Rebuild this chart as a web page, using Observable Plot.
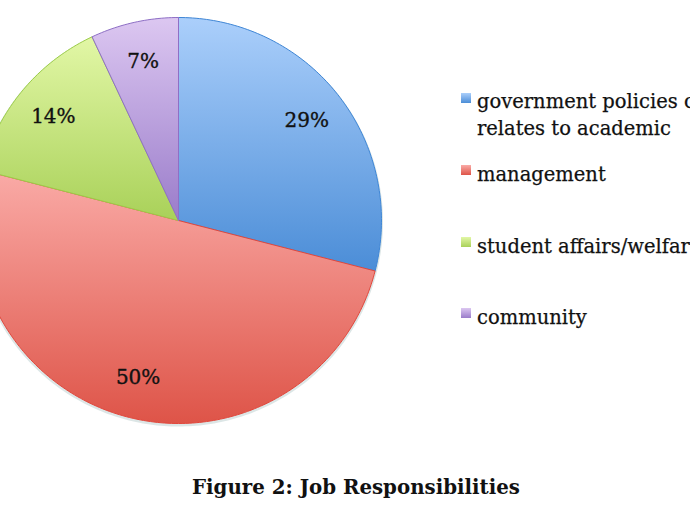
<!DOCTYPE html>
<html>
<head>
<meta charset="utf-8">
<script src="https://cdn.jsdelivr.net/npm/d3@7"></script>
<script src="https://cdn.jsdelivr.net/npm/@observablehq/plot@0.6"></script>
<style>
  html, body { margin: 0; padding: 0; background: #fff; overflow: hidden; }
  #wrap { position: relative; width: 690px; height: 518px; overflow: hidden; }
  .leg { position: absolute; left: 0; top: 0; font-family: "DejaVu Serif", serif; font-size: 19.5px; color: #111; white-space: nowrap; -webkit-text-stroke: 0.25px #111; }
  .sw { position: absolute; width: 10px; height: 10px; }
  .lt { position: absolute; line-height: 27px; }
  #title { position: absolute; left: 0; width: 712px; text-align: center; top: 475px; font-family: "DejaVu Serif", serif; font-weight: bold; font-size: 19.8px; color: #111; white-space: nowrap; }
</style>
</head>
<body>
<div id="wrap"></div>
<script>
// ---- data ----
const categories = ["government policies or relates to academic", "management", "student affairs/welfare", "community"];
const legendLines = [["government policies or", "relates to academic"], ["management"], ["student affairs/welfare"], ["community"]];
const shares = [29, 50, 14, 7];
const labels = ["29%", "50%", "14%", "7%"];
const topColors = ["#abcffb", "#faaba7", "#e2f7a6", "#dcc7f1"];
const bottomColors = ["#4b8dd7", "#de5448", "#a9d159", "#9a7cca"];
const strokeColors = ["#3f86d6", "#e0473c", "#9ccd48", "#8f6fc6"];
const titleText = "Figure 2: Job Responsibilities";

// ---- layout ----
const W = 690, H = 518, CX = 178, CY = 220, R = 203;

const total = d3.sum(shares);
let acc = 0;
const slices = shares.map((v, i) => {
  const a0 = acc / total * 2 * Math.PI;
  acc += v;
  const a1 = acc / total * 2 * Math.PI;
  return {i, v, a0, a1, mid: (a0 + a1) / 2};
});

function slicePoints(s) {
  const pts = [{x: 0, y: 0}];
  const n = Math.max(4, Math.ceil((s.a1 - s.a0) / (Math.PI / 180)));
  for (let k = 0; k <= n; k++) {
    const t = s.a0 + (s.a1 - s.a0) * k / n;
    pts.push({x: Math.sin(t), y: Math.cos(t)});
  }
  pts.push({x: 0, y: 0});
  return pts;
}
const circlePts = d3.range(0, 361).map(d => ({x: Math.sin(d * Math.PI / 180), y: Math.cos(d * Math.PI / 180)}));

const labelData = slices.map(s => ({label: labels[s.i], x: 0.8 * Math.sin(s.mid), y: 0.8 * Math.cos(s.mid)}));

const marks = [
  Plot.line(circlePts, {x: "x", y: "y", stroke: "#d3e0e0", strokeWidth: 3, dy: 1.5, strokeOpacity: 0.8})
];
slices.forEach(s => {
  marks.push(Plot.line(slicePoints(s), {x: "x", y: "y", fill: `url(#grad${s.i})`, stroke: strokeColors[s.i], strokeWidth: 1, strokeLinejoin: "round"}));
});
marks.push(Plot.text(labelData, {x: "x", y: "y", text: "label", fontSize: 20, fontFamily: "DejaVu Serif", fill: "#111", stroke: "#111", strokeWidth: 0.35}));

const svg = Plot.plot({
  width: W, height: H,
  marginLeft: 0, marginRight: 0, marginTop: 0, marginBottom: 0,
  x: {domain: [-CX / R, (W - CX) / R], axis: null},
  y: {domain: [-(H - CY) / R, CY / R], axis: null},
  marks
});

// gradients
const ns = "http://www.w3.org/2000/svg";
const defs = document.createElementNS(ns, "defs");
slices.forEach(s => {
  const g = document.createElementNS(ns, "linearGradient");
  g.setAttribute("id", `grad${s.i}`);
  g.setAttribute("x1", "0"); g.setAttribute("y1", "0");
  g.setAttribute("x2", "0"); g.setAttribute("y2", "1");
  [[0, topColors[s.i]], [1, bottomColors[s.i]]].forEach(([o, c]) => {
    const st = document.createElementNS(ns, "stop");
    st.setAttribute("offset", o);
    st.setAttribute("stop-color", c);
    g.appendChild(st);
  });
  defs.appendChild(g);
});
svg.insertBefore(defs, svg.firstChild);

const wrap = document.getElementById("wrap");
wrap.appendChild(svg);

// legend
const leg = document.createElement("div");
leg.className = "leg";
const legRows = [{sw: 93, txt: 88}, {sw: 165, txt: 161}, {sw: 237, txt: 233}, {sw: 308, txt: 304}];
categories.forEach((c, i) => {
  const sw = document.createElement("div");
  sw.className = "sw";
  sw.style.left = "461px";
  sw.style.top = legRows[i].sw + "px";
  sw.style.background = `linear-gradient(${topColors[i]}, ${bottomColors[i]})`;
  leg.appendChild(sw);
  const t = document.createElement("div");
  t.className = "lt";
  t.style.left = "477px";
  t.style.top = legRows[i].txt + "px";
  t.innerHTML = legendLines[i].join("<br>");
  leg.appendChild(t);
});
wrap.appendChild(leg);

const title = document.createElement("div");
title.id = "title";
title.textContent = titleText;
wrap.appendChild(title);
</script>
</body>
</html>
